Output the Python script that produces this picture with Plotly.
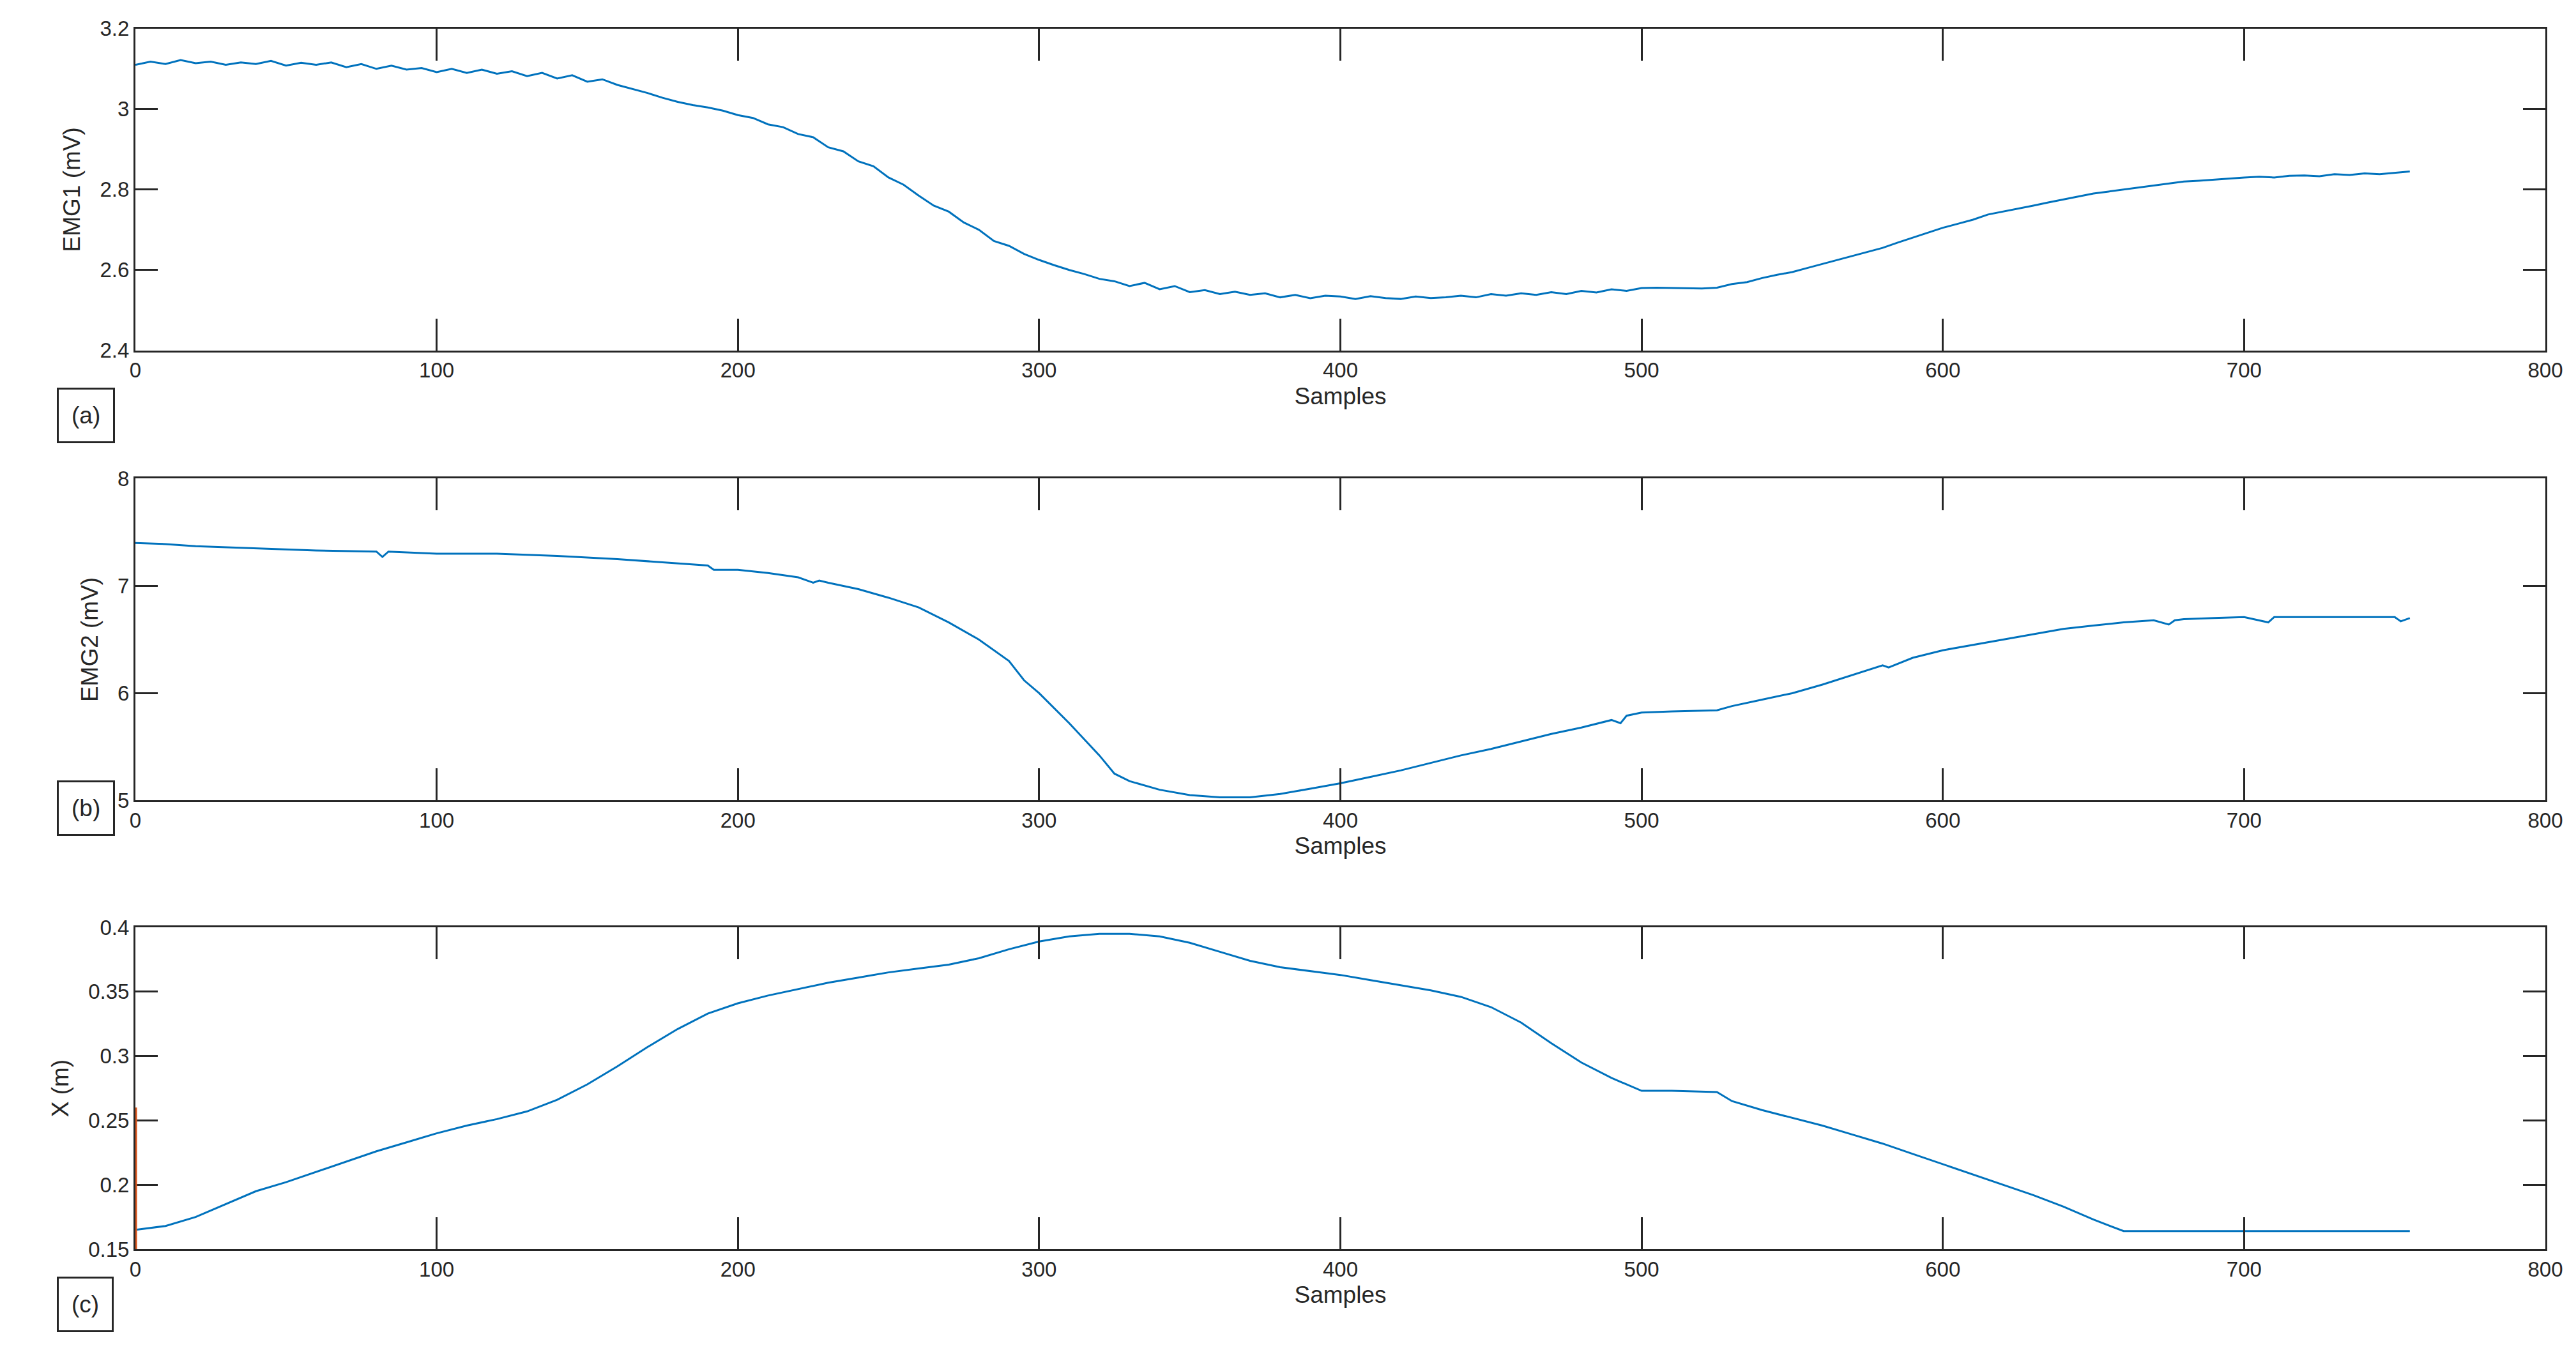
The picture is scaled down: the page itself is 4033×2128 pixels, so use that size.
import plotly.graph_objects as go
from plotly.subplots import make_subplots

# EMG1 sampled every 5 samples (0..755)
emg1_x = list(range(0, 760, 5))
emg1_y = [3.110, 3.118, 3.112, 3.122, 3.114, 3.118, 3.110, 3.116, 3.112, 3.120,
          3.108, 3.115, 3.110, 3.116, 3.104, 3.112, 3.100, 3.108, 3.098, 3.102,
          3.092, 3.100, 3.090, 3.098, 3.088, 3.094, 3.082, 3.090, 3.076, 3.084,
          3.068, 3.074, 3.060, 3.050, 3.040, 3.028, 3.018, 3.010, 3.004, 2.996,
          2.985, 2.978, 2.962, 2.955, 2.938, 2.930, 2.905, 2.895, 2.870, 2.858,
          2.830, 2.812, 2.785, 2.760, 2.745, 2.718, 2.700, 2.672, 2.660, 2.640,
          2.625, 2.612, 2.600, 2.590, 2.578, 2.572, 2.560, 2.568, 2.552, 2.560,
          2.545, 2.550, 2.540, 2.546, 2.538, 2.542, 2.532, 2.538, 2.530, 2.536,
          2.534, 2.528, 2.535, 2.530, 2.528, 2.534, 2.530, 2.532, 2.536, 2.532,
          2.540, 2.536, 2.542, 2.538, 2.545, 2.540, 2.548, 2.544, 2.552, 2.548,
          2.555, 2.556, 2.555, 2.555, 2.554, 2.556, 2.565, 2.570, 2.580, 2.588,
          2.595, 2.605, 2.615, 2.625, 2.635, 2.645, 2.655, 2.668, 2.680, 2.692,
          2.705, 2.715, 2.725, 2.738, 2.745, 2.752, 2.760, 2.768, 2.775, 2.782,
          2.790, 2.795, 2.800, 2.805, 2.810, 2.815, 2.820, 2.822, 2.825, 2.828,
          2.830, 2.832, 2.830, 2.834, 2.835, 2.833, 2.838, 2.836, 2.840, 2.838,
          2.842, 2.845]

emg2_x = [0, 10, 20, 40, 60, 80, 82, 84, 100, 120, 140, 160, 180, 190, 192, 200, 210, 220, 225, 227,
          230, 240, 250, 260, 270, 280, 290, 295, 300, 310, 320, 325, 330, 340, 350, 360, 370,
          380, 390, 400, 410, 420, 430, 440, 450, 460, 470, 480, 490, 493, 495, 500, 510, 525,
          530, 540, 550, 560, 570, 580, 582, 590, 600, 610, 620, 630, 640, 650, 660, 670,
          675, 677, 680, 690, 700, 708, 710, 720, 740, 750, 752, 755]
emg2_y = [7.40, 7.39, 7.37, 7.35, 7.33, 7.32, 7.27, 7.32, 7.30, 7.30, 7.28, 7.25, 7.21, 7.19, 7.15, 7.15,
          7.12, 7.08, 7.03, 7.05, 7.03, 6.97, 6.89, 6.80, 6.66, 6.50, 6.30, 6.12, 6.00, 5.72,
          5.42, 5.25, 5.18, 5.10, 5.05, 5.03, 5.03, 5.06, 5.11, 5.16, 5.22, 5.28, 5.35, 5.42,
          5.48, 5.55, 5.62, 5.68, 5.75, 5.72, 5.79, 5.82, 5.83, 5.84, 5.88, 5.94, 6.00, 6.08,
          6.17, 6.26, 6.24, 6.33, 6.40, 6.45, 6.50, 6.55, 6.60, 6.63, 6.66, 6.68, 6.64, 6.68,
          6.69, 6.70, 6.71, 6.66, 6.71, 6.71, 6.71, 6.71, 6.67, 6.70]

x_x = [0, 10, 20, 30, 40, 50, 60, 70, 80, 90, 100, 110, 120, 130, 140, 150, 160, 170, 180,
       190, 200, 210, 220, 230, 240, 250, 260, 270, 280, 290, 300, 310, 320, 330, 340, 350,
       360, 370, 380, 390, 400, 410, 420, 430, 440, 450, 460, 470, 480, 490, 500, 510, 525,
       530, 540, 550, 560, 570, 580, 590, 600, 610, 620, 630, 640, 650, 660, 670, 700, 755]
x_y = [0.165, 0.168, 0.175, 0.185, 0.195, 0.202, 0.210, 0.218, 0.226, 0.233, 0.240, 0.246,
       0.251, 0.257, 0.266, 0.278, 0.292, 0.307, 0.321, 0.333, 0.341, 0.347, 0.352, 0.357,
       0.361, 0.365, 0.368, 0.371, 0.376, 0.383, 0.389, 0.393, 0.395, 0.395, 0.393, 0.388,
       0.381, 0.374, 0.369, 0.366, 0.363, 0.359, 0.355, 0.351, 0.346, 0.338, 0.326, 0.310,
       0.295, 0.283, 0.273, 0.273, 0.272, 0.265, 0.258, 0.252, 0.246, 0.239, 0.232, 0.224,
       0.216, 0.208, 0.200, 0.192, 0.183, 0.173, 0.164, 0.164, 0.164, 0.164]

ref_x = [0, 0]
ref_y = [0.15, 0.26]

BLUE = "#0072BD"
ORANGE = "#D95319"
AX = "#262626"
FONT = "Liberation Sans, Arial, sans-serif"

fig = make_subplots(rows=3, cols=1)
fig.add_trace(go.Scatter(x=emg1_x, y=emg1_y, mode="lines", line=dict(color=BLUE, width=3)), row=1, col=1)
fig.add_trace(go.Scatter(x=emg2_x, y=emg2_y, mode="lines", line=dict(color=BLUE, width=3)), row=2, col=1)
fig.add_trace(go.Scatter(x=x_x, y=x_y, mode="lines", line=dict(color=BLUE, width=3)), row=3, col=1)
fig.add_trace(go.Scatter(x=ref_x, y=ref_y, mode="lines", line=dict(color=ORANGE, width=5), cliponaxis=False),
              row=3, col=1)

domains = [[0.750, 0.991], [0.413, 0.654], [0.077, 0.318]]
yranges = [[2.4, 3.2], [5, 8], [0.15, 0.4]]
ydticks = [0.2, 1, 0.05]
ytitles = ["EMG1 (mV)", "EMG2 (mV)", "X (m)"]
common = dict(showline=True, linecolor=AX, linewidth=3, mirror="allticks", ticks="inside",
              tickcolor=AX, tickwidth=3, showgrid=False, zeroline=False,
              tickfont=dict(family=FONT, size=33, color=AX))
for i in range(3):
    fig.update_xaxes(row=i + 1, col=1, range=[0, 800], dtick=100, ticklen=50, domain=[0.0488, 0.993],
                     title=dict(text="Samples", font=dict(family=FONT, size=37, color=AX), standoff=10),
                     **common)
    fig.update_yaxes(row=i + 1, col=1, range=yranges[i], dtick=ydticks[i], ticklen=35, domain=domains[i],
                     title=dict(text=ytitles[i], font=dict(family=FONT, size=37, color=AX), standoff=20),
                     layer="below traces", **common)

for lab, yc in [("(a)", 0.722), ("(b)", 0.407), ("(c)", 0.015)]:
    fig.add_annotation(text=lab, xref="paper", yref="paper", x=0.018, y=yc, showarrow=False,
                       font=dict(family=FONT, size=37, color=AX), bordercolor=AX, borderwidth=3,
                       borderpad=20, bgcolor="white")

fig.update_layout(width=4033, height=2128, showlegend=False, plot_bgcolor="white",
                  paper_bgcolor="white", margin=dict(l=0, r=0, t=0, b=0))
fig.write_html("out.html")
